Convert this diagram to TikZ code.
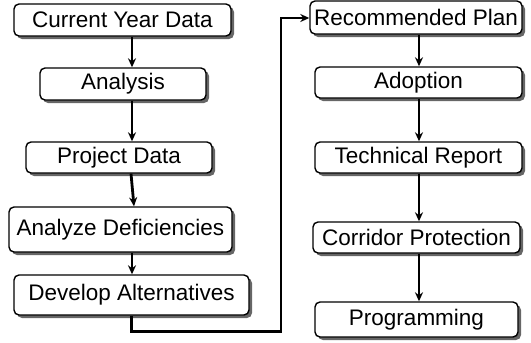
\documentclass[tikz,border=0pt]{standalone}
\usepackage{fontspec}
\setmainfont{Liberation Sans}
\usetikzlibrary{arrows.meta,shadows}

\begin{document}
\begin{tikzpicture}[
    x=1pt, y=-1pt,
    stepbox/.style={rectangle, draw, line width=1.4pt, fill=white, rounded corners=5pt, inner sep=0pt,
        minimum height=32pt, align=center, font=\fontsize{22.5}{25}\selectfont,
        drop shadow={shadow xshift=3pt, shadow yshift=-3pt, fill=black!60, opacity=1}},
    arrow/.style={-{Stealth[length=9pt,width=8pt]}, line width=2.8pt}
]
    \useasboundingbox (0,0) rectangle (531,343);

    % Left column
    \node[stepbox, minimum width=217pt] (cyd) at (122.5, 20) {Current Year Data};
    \node[stepbox, minimum width=166pt] (ana) at (123, 84) {Analysis};
    \node[stepbox, minimum width=186pt, minimum height=31pt] (prd) at (119, 157.5) {Project Data};
    \node[stepbox, minimum width=223pt, minimum height=45pt] (adf) at (120.5, 229.5) {Analyze Deficiencies};
    \node[stepbox, minimum width=235pt, minimum height=40pt] (dva) at (131.5, 295) {Develop Alternatives};

    % Right column
    \node[stepbox, minimum width=212pt, minimum height=33pt] (rcp) at (416, 17.5) {Recommended Plan};
    \node[stepbox, minimum width=207pt, minimum height=31pt] (adp) at (418.5, 82.5) {Adoption};
    \node[stepbox, minimum width=207pt, minimum height=31pt] (tcr) at (418.5, 157.5) {Technical Report};
    \node[stepbox, minimum width=207pt, minimum height=31pt] (crp) at (416.5, 237.5) {Corridor Protection};
    \node[stepbox, minimum width=203pt, minimum height=35pt] (prg) at (416.5, 319.5) {Programming};

    % Arrows
    \draw[arrow] ([xshift=9.5pt]cyd.south) -- ([xshift=9pt]ana.north);
    \draw[arrow] ([xshift=9pt]ana.south) -- ([xshift=13pt]prd.north);
    \draw[arrow] ([xshift=12pt]prd.south) -- ([xshift=13.5pt]adf.north);
    \draw[arrow] ([xshift=11.5pt]adf.south) -- ([xshift=0.5pt]dva.north);
    \draw[arrow, rounded corners=0pt] (dva.south) -- ++(0,16) -| (281, 18) -- (rcp.west |- 0,18);
    \draw[arrow] ([xshift=3pt]rcp.south) -- ([xshift=0.5pt]adp.north);
    \draw[arrow] ([xshift=0.5pt]adp.south) -- ([xshift=0.5pt]tcr.north);
    \draw[arrow] ([xshift=0.5pt]tcr.south) -- ([xshift=2.5pt]crp.north);
    \draw[arrow] ([xshift=2.5pt]crp.south) -- ([xshift=2.5pt]prg.north);
\end{tikzpicture}
\end{document}
